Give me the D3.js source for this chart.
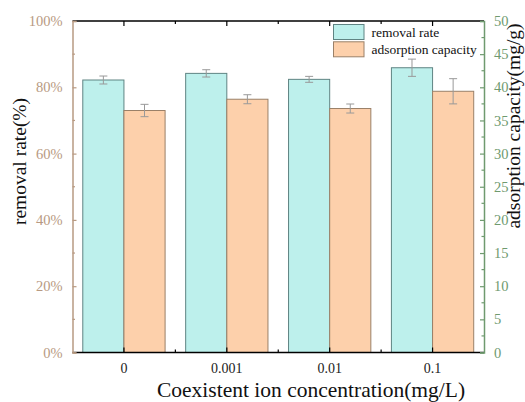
<!DOCTYPE html>
<html><head><meta charset="utf-8">
<script src="https://cdn.jsdelivr.net/npm/d3@7"></script>
<style>body{margin:0;background:#fff}svg{display:block}text{font-family:"Liberation Serif","Times New Roman",serif}</style>
</head><body>
<svg id="c" width="525" height="402"></svg>
<script>
const categories = ["0", "0.001", "0.01", "0.1"];
const removalRate = [82.2, 84.2, 82.4, 85.9];
const removalErr = [1.2, 1.1, 0.9, 2.6];
const adsorption = [36.5, 38.2, 36.8, 39.4];
const adsorptionErr = [0.93, 0.68, 0.68, 1.9];
const leftTicks = [0, 20, 40, 60, 80, 100];
const rightTicks = [0, 5, 10, 15, 20, 25, 30, 35, 40, 45, 50];

const svg = d3.select("#c");
const L = 72.5, R = 484, T = 21, B = 352.5;
const x = d3.scaleBand().domain(categories).range([L, R]).padding(0);
const yL = d3.scaleLinear().domain([0, 100]).range([B, T]);
const yR = d3.scaleLinear().domain([0, 50]).range([B, T]);
const bw = x.bandwidth() * 0.4;
const leftCol = "#b89a82", rightCol = "#6f9a6f";

const g = svg.append("g");
categories.forEach((c, i) => {
  const cx = x(c) + x.bandwidth() / 2;
  g.append("rect").attr("x", cx - bw).attr("y", yL(removalRate[i])).attr("width", bw)
    .attr("height", B - yL(removalRate[i])).attr("fill", "#bdf0ec").attr("stroke", "#5f8483").attr("stroke-width", 1);
  g.append("rect").attr("x", cx).attr("y", yR(adsorption[i])).attr("width", bw)
    .attr("height", B - yR(adsorption[i])).attr("fill", "#fdd0ab").attr("stroke", "#9a8068").attr("stroke-width", 1);
  const eb = (xc, y0, y1) => {
    g.append("line").attr("x1", xc).attr("x2", xc).attr("y1", y0).attr("y2", y1).attr("stroke", "#999").attr("stroke-width", 1);
    [y0, y1].forEach(yy => g.append("line").attr("x1", xc - 4).attr("x2", xc + 4).attr("y1", yy).attr("y2", yy).attr("stroke", "#999").attr("stroke-width", 1));
  };
  const c1 = cx - bw / 2, c2 = cx + bw / 2;
  eb(c1, yL(removalRate[i] + removalErr[i]), yL(removalRate[i] - removalErr[i]));
  eb(c2, yR(adsorption[i] + adsorptionErr[i]), yR(adsorption[i] - adsorptionErr[i]));
});

const xTickPos = [];
categories.forEach(c => xTickPos.push({p: x(c) + x.bandwidth() / 2, major: true}));
categories.slice(1).forEach(c => xTickPos.push({p: x(c), major: false}));
svg.append("line").attr("x1", L).attr("x2", R).attr("y1", T).attr("y2", T).attr("stroke", "#000").attr("stroke-width", 1.3);
svg.append("line").attr("x1", L).attr("x2", R).attr("y1", B).attr("y2", B).attr("stroke", "#000").attr("stroke-width", 1.3);
xTickPos.forEach(t => {
  const len = t.major ? 5 : 3;
  svg.append("line").attr("x1", t.p).attr("x2", t.p).attr("y1", T).attr("y2", T + len).attr("stroke", "#000").attr("stroke-width", 1.2);
  svg.append("line").attr("x1", t.p).attr("x2", t.p).attr("y1", B).attr("y2", B - len).attr("stroke", "#000").attr("stroke-width", 1.2);
});
categories.forEach(c => {
  svg.append("text").attr("x", x(c) + x.bandwidth() / 2).attr("y", 373).attr("text-anchor", "middle")
    .attr("font-size", 14).attr("fill", "#222").text(c);
});

const la = svg.append("g").attr("transform", `translate(${L},0)`)
  .call(d3.axisLeft(yL).tickValues(leftTicks).tickSize(-4).tickPadding(10).tickFormat(d => d + "%"));
la.select(".domain").attr("stroke", leftCol).attr("stroke-width", 1.5);
la.selectAll(".tick line").attr("stroke", leftCol).attr("stroke-width", 1.2);
la.selectAll(".tick text").attr("fill", leftCol).attr("font-size", 14.5).attr("font-family", "Liberation Serif");
d3.range(10, 100, 20).forEach(v => svg.append("line").attr("x1", L).attr("x2", L + 2.5).attr("y1", yL(v)).attr("y2", yL(v)).attr("stroke", leftCol).attr("stroke-width", 1.2));

const ra = svg.append("g").attr("transform", `translate(${R},0)`)
  .call(d3.axisRight(yR).tickValues(rightTicks).tickSize(-4).tickPadding(10));
ra.select(".domain").attr("stroke", rightCol).attr("stroke-width", 1.5);
ra.selectAll(".tick line").attr("stroke", rightCol).attr("stroke-width", 1.2);
ra.selectAll(".tick text").attr("fill", rightCol).attr("font-size", 14.5).attr("font-family", "Liberation Serif");
d3.range(2.5, 50, 5).forEach(v => svg.append("line").attr("x1", R).attr("x2", R - 2.5).attr("y1", yR(v)).attr("y2", yR(v)).attr("stroke", rightCol).attr("stroke-width", 1.2));

svg.append("text").attr("transform", "translate(26,161.5) rotate(-90)").attr("text-anchor", "middle")
  .attr("font-size", 19.5).attr("fill", "#111").text("removal rate(%)");
svg.append("text").attr("transform", "translate(520,126) rotate(-90)").attr("text-anchor", "middle")
  .attr("font-size", 19.5).attr("fill", "#111").text("adsorption capacity(mg/g)");
svg.append("text").attr("x", 311).attr("y", 397).attr("text-anchor", "middle")
  .attr("font-size", 21.5).attr("fill", "#111").text("Coexistent ion concentration(mg/L)");

const leg = [["removal rate", "#bdf0ec", "#5f8483"], ["adsorption capacity", "#fdd0ab", "#9a8068"]];
leg.forEach((d, i) => {
  const y0 = 24.5 + i * 17.3;
  svg.append("rect").attr("x", 333.5).attr("y", y0).attr("width", 30.5).attr("height", 15).attr("fill", d[1]).attr("stroke", d[2]);
  svg.append("text").attr("x", 371.5).attr("y", y0 + 12).attr("font-size", 13.5).attr("fill", "#111").text(d[0]);
});
</script>
</body></html>
